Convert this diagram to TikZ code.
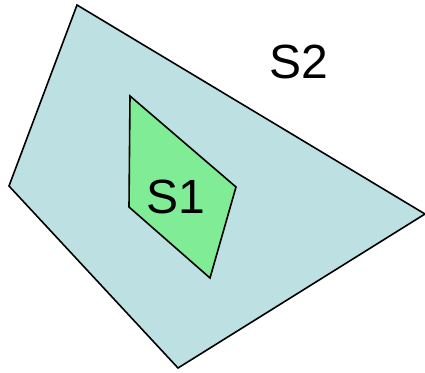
\documentclass[tikz,border=0pt]{standalone}
\usepackage{fontspec}
\setmainfont{Liberation Sans}
\definecolor{outerfill}{RGB}{189,224,227}
\definecolor{innerfill}{RGB}{128,236,150}
\tikzset{
  region/.style={draw=black, line width=1.6pt, line join=miter},
  lbl/.style={font=\fontsize{48}{48}\selectfont, inner sep=0pt}
}
\begin{document}
\begin{tikzpicture}[x=1pt,y=-1pt]
\useasboundingbox (0,0) rectangle (425,372);
\coordinate (o1) at (77,5);
\coordinate (o2) at (425,214);
\coordinate (o3) at (178,368);
\coordinate (o4) at (9,186);
\draw[region, fill=outerfill] (o1) -- (o2) -- (o3) -- (o4) -- cycle;
\coordinate (i1) at (130,96);
\coordinate (i2) at (236,187);
\coordinate (i3) at (210,278);
\coordinate (i4) at (129,207);
\draw[region, fill=innerfill] (i1) -- (i2) -- (i3) -- (i4) -- cycle;
\node[lbl] (s1) at (176,197) {S1};
\node[lbl] (s2) at (299,62) {S2};
\end{tikzpicture}
\end{document}
